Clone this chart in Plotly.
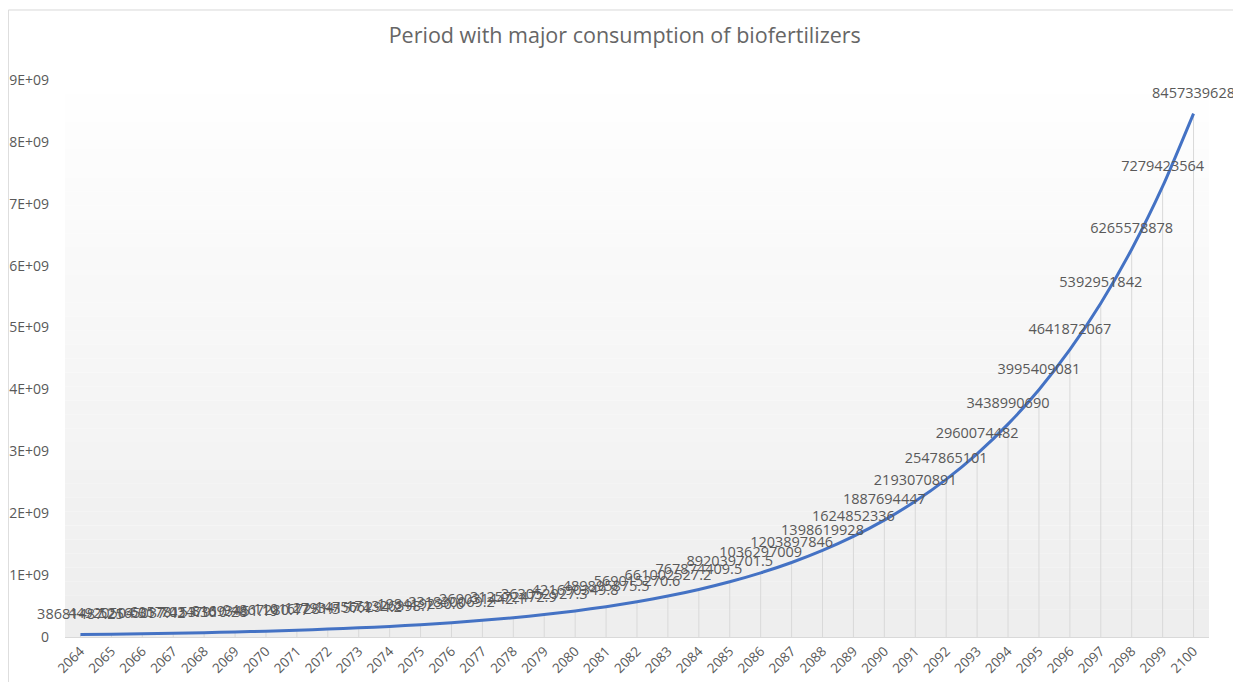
import plotly.graph_objects as go

years = [str(y) for y in range(2064, 2101)]
values = [
    38681487.25, 44920504.31, 52165037.42, 60578153.36, 70347910.28,
    81693451.19, 94867280.17, 110167281.5, 127934157.4, 147566294.2,
    171326398.7, 198419230.6, 231830069.2, 269031442.1, 312572472.9,
    363052927.3, 421690349.8, 489895875.5, 569015270.6, 661002527.2,
    767874409.5, 892039701.5, 1036297009, 1203897846, 1398619928,
    1624852336, 1887694447, 2193070891, 2547865101, 2960074482,
    3438990690, 3995409081, 4641872067, 5392951842, 6265578878,
    7279423564, 8457339628,
]
y_ticks = [0, 1e9, 2e9, 3e9, 4e9, 5e9, 6e9, 7e9, 8e9, 9e9]
y_tick_text = ["0", "1E+09", "2E+09", "3E+09", "4E+09", "5E+09", "6E+09", "7E+09", "8E+09", "9E+09"]

labels = [f"{v:.10g}" for v in values]
grey = "#595959"
font = "Open Sans, sans-serif"

fig = go.Figure()
fig.add_trace(go.Scatter(
    x=years, y=values, mode="lines",
    line=dict(color="#4472C4", width=3, shape="spline", smoothing=0.6),
    error_y=dict(type="data", symmetric=False, array=[0] * len(values),
                 arrayminus=values, color="#d9d9d9", thickness=1, width=0),
    showlegend=False, hoverinfo="x+y",
))
# data labels (transparent markers push the labels up a little)
fig.add_trace(go.Scatter(
    x=years, y=values, mode="markers+text",
    marker=dict(size=18, opacity=0),
    text=labels, textposition="top center",
    textfont=dict(family=font, size=14.5, color=grey),
    cliponaxis=False, showlegend=False, hoverinfo="skip",
))

# vertical gradient background for plot area (white -> light grey)
shapes = []
n = 40
for i in range(n):
    t = i / (n - 1)
    c = int(255 - (255 - 238) * t)
    shapes.append(dict(type="rect", xref="paper", yref="paper",
                       x0=0, x1=1, y0=1 - (i + 1) / n, y1=1 - i / n,
                       fillcolor=f"rgb({c},{c},{c})", line=dict(width=0),
                       layer="below"))
# chart border
shapes.append(dict(type="rect", xref="paper", yref="paper", x0=-0.0495, x1=1.06,
                   y0=-0.15, y1=1.1257, line=dict(color="#d9d9d9", width=1),
                   layer="below"))

fig.update_layout(
    width=1241, height=682,
    margin=dict(l=57, r=40, t=72, b=53, autoexpand=False),
    paper_bgcolor="white", plot_bgcolor="white",
    title=dict(text="Period with major consumption of biofertilizers",
               x=0.497, xanchor="center", y=0.9604, yanchor="middle",
               automargin=False,
               font=dict(family=font, size=21.5, color="#666666")),
    xaxis=dict(type="category", range=[-0.5, 36.5], tickangle=-45,
               showgrid=False, automargin=False,
               showline=True, linecolor="#d9d9d9", linewidth=1, ticks="",
               tickfont=dict(family=font, size=13.5, color=grey)),
    yaxis=dict(range=[0, 9e9], tickvals=y_ticks, ticktext=y_tick_text,
               showgrid=False, zeroline=False, showline=False, ticks="",
               automargin=False, ticklabelstandoff=15,
               tickfont=dict(family=font, size=14, color=grey)),
    shapes=shapes,
)

fig.write_html("out.html")
